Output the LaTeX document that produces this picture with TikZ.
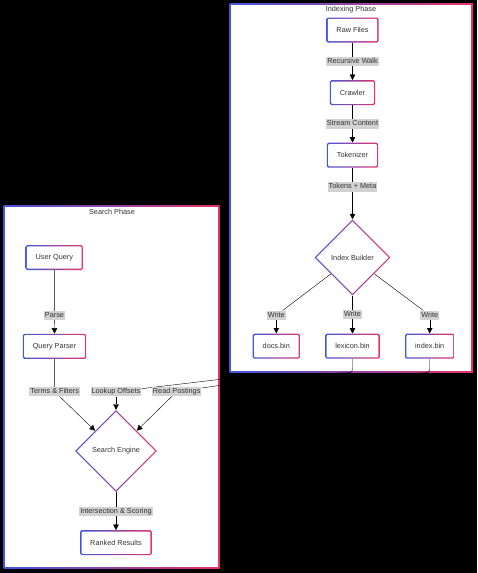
\documentclass[tikz,border=0pt]{standalone}
\usepackage{fontspec}
\setmainfont{Liberation Sans}
\usetikzlibrary{shapes.geometric,arrows.meta}
\definecolor{gblue}{HTML}{4355DC}
\definecolor{gred}{HTML}{E5336A}
\definecolor{txt}{HTML}{333333}
\pgfdeclarelayer{back}
\pgfdeclarelayer{edges}
\pgfsetlayers{back,edges,main}
\tikzset{
  gbox/.style={rectangle, rounded corners=1.5pt, left color=gblue, right color=gred,
    minimum height=25pt, inner xsep=10pt, text=txt,
    path picture={\fill[white,rounded corners=1pt]
      ([shift={(1.3pt,1.3pt)}]path picture bounding box.south west) rectangle
      ([shift={(-1.3pt,-1.3pt)}]path picture bounding box.north east);}},
  gdiamond/.style={diamond, inner sep=0pt, left color=gblue, right color=gred, text=txt,
    path picture={\fill[white]
      ([xshift=1.9pt]path picture bounding box.west) --
      ([yshift=-1.9pt]path picture bounding box.north) --
      ([xshift=-1.9pt]path picture bounding box.east) --
      ([yshift=1.9pt]path picture bounding box.south) -- cycle;}},
  lbl/.style={fill=gray!35, text=txt, inner xsep=1pt, inner ysep=1pt,
    text height=5.6pt, text depth=1.6pt},
  ttl/.style={text=txt},
}

\begin{document}
\begin{tikzpicture}[x=1pt, y=-1pt, font=\fontsize{7.3}{9}\selectfont,
    >={Triangle[length=5.5pt,width=5.5pt]}, line width=0.9pt]
  \useasboundingbox (0,0) rectangle (477,573);
  \begin{pgfonlayer}{back}
    \fill[black] (0,0) rectangle (477,573);
    % indexing phase
    \shade[left color=gblue, right color=gred] (229.5,3.5) rectangle (473,372.5);
    \fill[white] (231.3,5.3) rectangle (471.2,370.7);
    % search phase
    \shade[left color=gblue, right color=gred] (3.5,205) rectangle (219.5,568.5);
    \fill[white] (5.3,206.8) rectangle (217.7,566.7);
  \end{pgfonlayer}

  \node[ttl] (ixt) at (351,10) {Indexing Phase};
  \node[gbox] (rf) at (352.5,30) {Raw Files};
  \node[gbox] (cr) at (352.5,92.7) {Crawler};
  \node[gbox] (tk) at (352.5,155.2) {Tokenizer};
  \node[gdiamond, minimum size=76pt] (ib) at (352.5,257.5) {Index Builder};
  \node[lbl] (w1) at (276.3,315.3) {Write};
  \node[lbl] (w3) at (429.7,315.3) {Write};
  \node[gbox] (docs) at (276.3,346.2) {docs.bin};
  \node[gbox] (lx) at (352.5,346.2) {lexicon.bin};
  \node[gbox] (ix) at (429.7,346.2) {index.bin};
  \coordinate (lxc) at (352.5,372.5);
  \coordinate (lxd) at (240,377);
  \coordinate (ixc) at (429.7,372.5);
  \coordinate (ixd) at (236,383);

  \node[ttl] (srt) at (112,211.7) {Search Phase};
  \node[gbox] (uq) at (54.3,257.5) {User Query};
  \node[gbox] (qp) at (54.5,346.3) {Query Parser};
  \node[lbl] (tf) at (54.7,391.7) {Terms \& Filters};
  \node[lbl] (lo) at (116,391.7) {Lookup Offsets};
  \node[lbl] (rp) at (176.7,391.7) {Read Postings};
  \node[gdiamond, minimum size=82pt] (se) at (116,451) {Search Engine};
  \node[gbox] (rr) at (116,542.7) {Ranked Results};

  \begin{pgfonlayer}{edges}
    \draw[->] (rf) to node[lbl] (l1) {Recursive Walk} (cr);
    \draw[->] (cr) to node[lbl] (l2) {Stream Content} (tk);
    \draw[->] (tk) to node[lbl, pos=0.37] (l3) {Tokens + Meta} (ib);
    \draw (ib) -- (w1);
    \draw[->] (w1) -- (docs);
    \draw[->] (ib) to node[lbl] (w2) {Write} (lx);
    \draw (ib) -- (w3);
    \draw[->] (w3) -- (ix);
    \draw[->] (uq) to node[lbl, pos=0.71] (l4) {Parse} (qp);
    \draw (qp) -- (tf);
    \draw[->] (tf) -- (se);
    \draw[rounded corners=3pt] (lx) -- (lxc) -- (lxd) -- (lo);
    \draw[->] (lo) -- (se);
    \draw[rounded corners=3pt] (ix) -- (ixc) -- (ixd) -- (rp);
    \draw[->] (rp) -- (se);
    \draw[->] (se) to node[lbl] (l5) {Intersection \& Scoring} (rr);
  \end{pgfonlayer}
\end{tikzpicture}
\end{document}
